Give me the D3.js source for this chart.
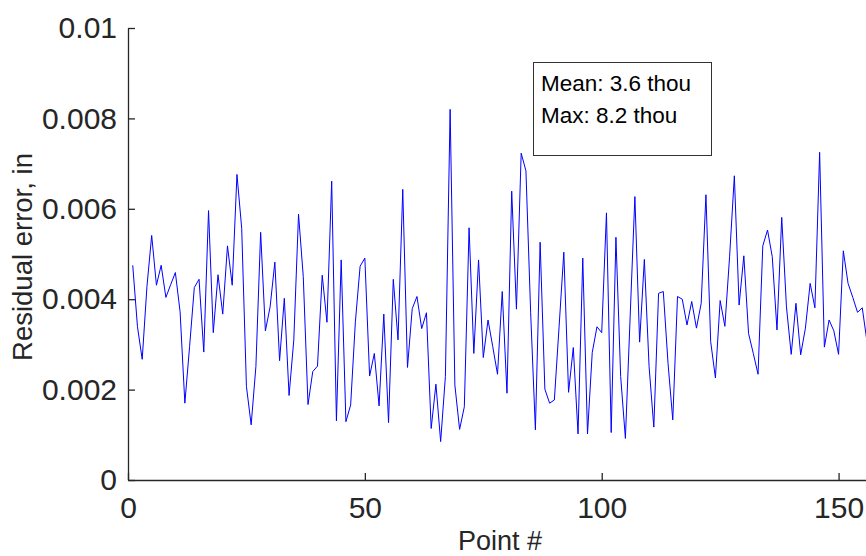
<!DOCTYPE html>
<html><head><meta charset="utf-8">
<script src="https://cdn.jsdelivr.net/npm/d3@7"></script>
<style>body{margin:0;background:#fff}svg{display:block}</style>
</head><body>
<script>
const pointIndex = d3.range(1, 157);
const residualThou = [
 4.75,3.39,2.67,4.28,5.41,4.31,4.75,4.04,4.32,4.59,
 3.72,1.70,2.95,4.26,4.44,2.83,5.96,3.26,4.54,3.67,
 5.18,4.31,6.76,5.57,2.07,1.22,2.51,5.48,3.30,3.83,
 4.82,2.64,4.02,1.87,3.10,5.88,4.50,1.67,2.40,2.52,
 4.53,3.49,6.61,1.31,4.87,1.29,1.66,3.50,4.73,4.91,
 2.30,2.80,1.64,3.67,1.27,4.44,3.10,6.43,2.49,3.79,
 4.06,3.35,3.70,1.14,2.12,0.85,2.29,8.20,2.10,1.12,
 1.62,5.58,2.80,4.87,2.71,3.54,2.95,2.34,4.17,1.92,
 6.39,3.78,7.23,6.84,3.70,1.11,5.26,2.01,1.70,1.77,
 3.39,5.04,1.94,2.93,1.02,4.91,1.02,2.82,3.39,3.26,
 5.91,1.05,5.37,2.29,0.92,3.61,6.27,3.05,4.88,2.51,
 1.17,4.13,4.17,2.58,1.33,4.06,4.00,3.43,3.95,3.36,
 3.91,6.31,3.06,2.26,3.97,3.40,4.95,6.73,3.87,4.96,
 3.24,2.80,2.34,5.18,5.53,4.94,3.32,5.81,3.83,2.78,
 3.91,2.77,3.36,4.35,3.81,7.25,2.94,3.54,3.30,2.78,
 5.07,4.35,4.04,3.71,3.81,3.06
];
const xTicks = [0, 50, 100, 150];
const yTicks = [0, 0.002, 0.004, 0.006, 0.008, 0.01];
const yTickLabels = ["0", "0.002", "0.004", "0.006", "0.008", "0.01"];
const xLabel = "Point #";
const yLabel = "Residual error, in";
const noteLines = ["Mean: 3.6 thou", "Max: 8.2 thou"];

const W = 866, H = 556;
const axisColor = "#262626";
const font = "'Liberation Sans', Arial, sans-serif";
const svg = d3.select("body").append("svg").attr("width", W).attr("height", H)
  .style("font-family", font);

const x = d3.scaleLinear().domain([0, 156]).range([128, 867]);
const y = d3.scaleLinear().domain([0, 0.01]).range([480, 28]);

const data = pointIndex.map((p, i) => ({x: p, y: residualThou[i] / 1000}));

// line
svg.append("path").datum(data)
  .attr("fill", "none").attr("stroke", "#0000ff").attr("stroke-width", 1)
  .attr("d", d3.line().x(d => x(d.x)).y(d => y(d.y)));

// x axis
const xAxis = d3.axisBottom(x).tickValues(xTicks).tickSizeInner(-7).tickSizeOuter(0).tickPadding(17)
  .tickFormat(d3.format("d"));
const gx = svg.append("g").attr("transform", `translate(0,${y(0)})`).call(xAxis);
gx.select(".domain").attr("stroke", axisColor).attr("stroke-width", 1.3);
gx.selectAll(".tick line").attr("stroke", axisColor).attr("stroke-width", 1.3);
gx.selectAll(".tick text").attr("fill", axisColor).attr("font-size", 30).attr("font-family", font);

// y axis
const yAxis = d3.axisLeft(y).tickValues(yTicks).tickSizeInner(-7).tickSizeOuter(0).tickPadding(11)
  .tickFormat((d, i) => yTickLabels[i]);
const gy = svg.append("g").attr("transform", `translate(${x(0)},0)`).call(yAxis);
gy.select(".domain").attr("stroke", axisColor).attr("stroke-width", 1.3);
gy.selectAll(".tick line").attr("stroke", axisColor).attr("stroke-width", 1.3);
gy.selectAll(".tick text").attr("fill", axisColor).attr("font-size", 30).attr("font-family", font);

// axis labels
svg.append("text").attr("x", 500).attr("y", 550)
  .attr("text-anchor", "middle").attr("font-size", 27).attr("fill", axisColor).text(xLabel);
svg.append("text").attr("transform", `translate(32,257) rotate(-90)`)
  .attr("text-anchor", "middle").attr("font-size", 27.5).attr("fill", axisColor).text(yLabel);

// annotation box
const box = svg.append("g");
box.append("rect").attr("x", 533.5).attr("y", 62.5).attr("width", 178).attr("height", 93)
  .attr("fill", "#fff").attr("stroke", "#333").attr("stroke-width", 1);
noteLines.forEach((t, i) => {
  box.append("text").attr("x", 541).attr("y", 91 + i * 32)
    .attr("font-size", 22.5).attr("fill", "#000").text(t);
});
</script>
</body></html>
